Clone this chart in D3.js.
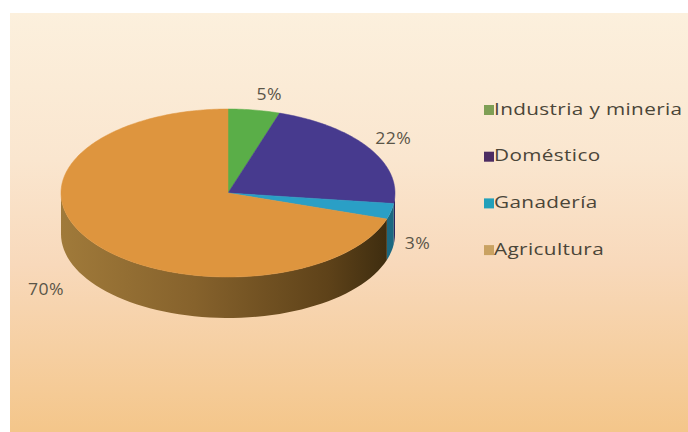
<!DOCTYPE html>
<html><head><meta charset="utf-8">
<script src="https://cdn.jsdelivr.net/npm/d3@7"></script>
<style>html,body{margin:0;padding:0;background:#fff;}svg{display:block;}</style>
</head><body>
<svg id="c" width="688" height="432"></svg>
<script>
const categories = ["Industria y mineria", "Doméstico", "Ganadería", "Agricultura"];
const values = [5, 22, 3, 70];
const labels = ["5%", "22%", "3%", "70%"];
const colors = ["#5aae48", "#473a8e", "#2a9fc6", "#de953e"];
const legendColors = ["#7f9f55", "#4c2c62", "#22a0ba", "#c9a262"];

const W = 688, H = 432;
const svg = d3.select("#c");
const defs = svg.append("defs");

const bg = defs.append("linearGradient").attr("id","bg").attr("x1",0).attr("y1",0).attr("x2",0).attr("y2",1);
bg.append("stop").attr("offset","0%").attr("stop-color","#fcf0dd");
bg.append("stop").attr("offset","35%").attr("stop-color","#fae6cf");
bg.append("stop").attr("offset","60%").attr("stop-color","#f8d9bb");
bg.append("stop").attr("offset","100%").attr("stop-color","#f4c68a");
svg.append("rect").attr("width",W).attr("height",H).attr("fill","#ffffff");
svg.append("rect").attr("x",10).attr("y",13).attr("width",W-10).attr("height",H-13).attr("fill","url(#bg)");

const cx = 228, cy = 193, rx = 167, ry = 84, depth = 41;

const sideG = defs.append("linearGradient").attr("id","side").attr("gradientUnits","userSpaceOnUse")
  .attr("x1",cx-rx).attr("y1",0).attr("x2",cx+rx).attr("y2",0);
sideG.append("stop").attr("offset","0%").attr("stop-color","#a07a3a");
sideG.append("stop").attr("offset","40%").attr("stop-color","#86622c");
sideG.append("stop").attr("offset","80%").attr("stop-color","#5e4219");
sideG.append("stop").attr("offset","100%").attr("stop-color","#3a2a0e");

const pie = d3.pie().sort(null).value(d => d)(values);
const pt = (a, dy=0) => [cx + rx*Math.sin(a), cy - ry*Math.cos(a) + dy];

// side walls (front half: angles PI/2 .. 3PI/2)
const gSide = svg.append("g");
pie.forEach((p,i) => {
  const a0 = Math.max(p.startAngle, Math.PI/2), a1 = Math.min(p.endAngle, 3*Math.PI/2);
  if (a1 <= a0) return;
  const n = 60, top = [], bot = [];
  for (let k=0;k<=n;k++){ const a = a0 + (a1-a0)*k/n; top.push(pt(a)); bot.push(pt(a,depth)); }
  const pts = top.concat(bot.reverse());
  gSide.append("path").attr("d", d3.line()(pts) + "Z")
    .attr("fill", i===3 ? "url(#side)" : d3.color(colors[i]).darker(1.2))
    .attr("stroke","none");
});

// top faces
const gTop = svg.append("g");
pie.forEach((p,i) => {
  const n = Math.max(8, Math.ceil((p.endAngle-p.startAngle)*60));
  const pts = [[cx,cy]];
  for (let k=0;k<=n;k++){ pts.push(pt(p.startAngle + (p.endAngle-p.startAngle)*k/n)); }
  gTop.append("path").attr("d", d3.line()(pts) + "Z").attr("fill", colors[i])
    .attr("stroke", colors[i]).attr("stroke-width",0.5);
});

// data labels
const nudge = [[10,2],[-4,1],[-6,-11],[-20,-3]];
pie.forEach((p,i) => {
  const m = (p.startAngle+p.endAngle)/2;
  let [x,y] = [cx + rx*1.2*Math.sin(m), cy - ry*1.2*Math.cos(m)];
  if (Math.cos(m) < 0) y += depth;
  svg.append("text")
    .attr("transform", `translate(${x + nudge[i][0]},${y + nudge[i][1]}) scale(1.1,1)`)
    .attr("text-anchor","middle").attr("dominant-baseline","middle")
    .attr("font-family","'Open Sans', sans-serif").attr("font-size",16)
    .attr("letter-spacing",0.4)
    .attr("fill","#5a5548").text(labels[i]);
});

// legend
const lg = svg.append("g").attr("transform","translate(484,110)");
categories.forEach((c,i) => {
  const g = lg.append("g").attr("transform",`translate(0,${i*46.7})`);
  g.append("rect").attr("x",0).attr("y",-5).attr("width",10).attr("height",10).attr("fill",legendColors[i]);
  g.append("text").attr("transform","translate(10,0) scale(1.22,1)").attr("dominant-baseline","middle")
    .attr("font-family","'Open Sans', sans-serif").attr("font-size",17)
    .attr("letter-spacing",0.3)
    .attr("fill","#4a4538").text(c);
});
</script>
</body></html>
